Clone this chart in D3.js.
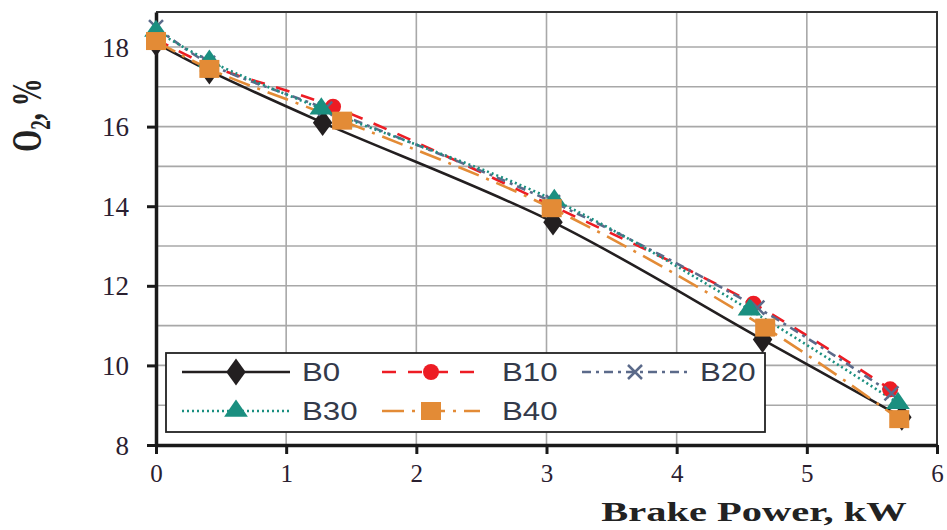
<!DOCTYPE html>
<html>
<head>
<meta charset="utf-8">
<script src="https://cdn.jsdelivr.net/npm/d3@7"></script>
<style>
  body { margin: 0; background: #fff; }
  svg { display: block; }
</style>
</head>
<body>
<div id="chart"></div>
<script>
// brake power (kW) and O2 (%)
var seriesNames = ['B0', 'B10', 'B20', 'B30', 'B40'];
var powerB0  = [0, 0.41, 1.28, 3.05, 4.66, 5.73];
var powerB10 = [0, 0.40, 1.36, 3.05, 4.59, 5.64];
var powerB20 = [0, 0.40, 1.30, 3.05, 4.62, 5.65];
var powerB30 = [0, 0.41, 1.27, 3.06, 4.56, 5.70];
var powerB40 = [0, 0.41, 1.43, 3.04, 4.68, 5.71];
var o2B0  = [18.1, 17.4, 16.1, 13.6, 10.65, 8.7];
var o2B10 = [18.2, 17.55, 16.5, 14.0, 11.55, 9.4];
var o2B20 = [18.5, 17.6, 16.45, 14.1, 11.45, 9.3];
var o2B30 = [18.4, 17.65, 16.45, 14.15, 11.4, 9.05];
var o2B40 = [18.15, 17.45, 16.15, 13.95, 10.95, 8.65];
var xTicks = [0, 1, 2, 3, 4, 5, 6];
var yTicks = [8, 10, 12, 14, 16, 18];

var W = 947, H = 530;
var margin = {left: 156, right: 10, top: 12, bottom: 85};

var svg = d3.select('#chart').append('svg')
  .attr('width', W).attr('height', H);

var x = d3.scaleLinear().domain([0, 6]).range([margin.left, W - margin.right]);
var y = d3.scaleLinear().domain([8, 18.88]).range([H - margin.bottom, margin.top]);

var styles = {
  B0:  {color: '#231f20', dash: null,            marker: 'diamond'},
  B10: {color: '#ed1c24', dash: '14,12',         marker: 'circle'},
  B20: {color: '#5b6a8a', dash: '9,5,3,5',       marker: 'cross'},
  B30: {color: '#1b8f80', dash: '2,3',           marker: 'triangle'},
  B40: {color: '#e38b36', dash: '22,8,3,8',      marker: 'square'}
};
var allX = [powerB0, powerB10, powerB20, powerB30, powerB40];
var allY = [o2B0, o2B10, o2B20, o2B30, o2B40];
var series = seriesNames.map(function (n, i) {
  return {name: n, pts: allX[i].map(function (p, j) { return {x: p, y: allY[i][j]}; })};
});

// grid
var grid = svg.append('g');
grid.selectAll('line.gx').data(d3.range(1, 7)).enter().append('line')
  .attr('x1', function (d) { return x(d); }).attr('x2', function (d) { return x(d); })
  .attr('y1', y.range()[1]).attr('y2', y.range()[0])
  .attr('stroke', '#a8a8a8').attr('stroke-width', 1.6);
grid.selectAll('line.gy').data(d3.range(9, 19)).enter().append('line')
  .attr('y1', function (d) { return y(d); }).attr('y2', function (d) { return y(d); })
  .attr('x1', x.range()[0]).attr('x2', x.range()[1])
  .attr('stroke', '#a8a8a8').attr('stroke-width', 1.6);
// frame top / right
svg.append('path')
  .attr('d', 'M' + x(0) + ',' + y.range()[1] + 'H' + x(6) + 'V' + y(8))
  .attr('fill', 'none').attr('stroke', '#333').attr('stroke-width', 2);

// axes
var xAxis = svg.append('g').attr('transform', 'translate(0,' + y(8) + ')')
  .call(d3.axisBottom(x).tickValues(xTicks).tickFormat(d3.format('d')).tickSize(9).tickSizeOuter(0));
var yAxis = svg.append('g').attr('transform', 'translate(' + x(0) + ',0)')
  .call(d3.axisLeft(y).tickValues(yTicks).tickFormat(d3.format('d')).tickSize(9).tickSizeOuter(0));
[xAxis, yAxis].forEach(function (a) {
  a.select('.domain').attr('stroke', '#1a1a1a').attr('stroke-width', 3.5);
  a.selectAll('.tick line').attr('stroke', '#1a1a1a').attr('stroke-width', 3);
  a.selectAll('.tick text').attr('fill', '#2a2030')
    .style('font-family', '"Liberation Serif", serif').style('font-size', '25px');
});
xAxis.selectAll('.tick text').attr('dy', '1.0em');
yAxis.selectAll('.tick text').attr('x', -27).attr('dy', '0.34em').style('font-size', '27px');

// lines
var line = d3.line().x(function (d) { return x(d.x); }).y(function (d) { return y(d.y); })
  .curve(d3.curveCatmullRom.alpha(0.5));

function drawMarker(g, type, color) {
  if (type === 'diamond') {
    g.append('path').attr('d', d3.symbol().type(d3.symbolDiamond).size(210)())
      .attr('transform', 'scale(1.25,1)').attr('fill', color);
  } else if (type === 'circle') {
    g.append('circle').attr('r', 8).attr('fill', color);
  } else if (type === 'cross') {
    g.append('path').attr('d', 'M-7,-7L7,7M-7,7L7,-7')
      .attr('stroke', color).attr('stroke-width', 2.5).attr('fill', 'none');
  } else if (type === 'triangle') {
    g.append('path').attr('d', d3.symbol().type(d3.symbolTriangle).size(170)())
      .attr('transform', 'scale(1.2,1)').attr('fill', color);
  } else if (type === 'square') {
    g.append('rect').attr('x', -10).attr('y', -9).attr('width', 20).attr('height', 18)
      .attr('fill', color);
  }
}

series.forEach(function (s) {
  var st = styles[s.name];
  svg.append('path').datum(s.pts).attr('d', line)
    .attr('fill', 'none').attr('stroke', st.color).attr('stroke-width', 2.6)
    .attr('stroke-dasharray', st.dash);
});
series.forEach(function (s) {
  var st = styles[s.name];
  s.pts.forEach(function (p) {
    var g = svg.append('g').attr('transform', 'translate(' + x(p.x) + ',' + y(p.y) + ')');
    drawMarker(g, st.marker, st.color);
  });
});

// legend
var leg = svg.append('g');
leg.append('rect').attr('x', 166).attr('y', 353).attr('width', 599).attr('height', 79)
  .attr('fill', '#fff').attr('stroke', '#222').attr('stroke-width', 1.8);
var legCols = [{x1: 182, x2: 290, tx: 302}, {x1: 382, x2: 480, tx: 502}, {x1: 582, x2: 688, tx: 700}];
var legRows = [372, 411];
seriesNames.forEach(function (n, i) {
  var st = styles[n];
  var c = legCols[i % 3], ry = legRows[Math.floor(i / 3)];
  leg.append('line').attr('x1', c.x1).attr('x2', c.x2).attr('y1', ry).attr('y2', ry)
    .attr('stroke', st.color).attr('stroke-width', 2.6).attr('stroke-dasharray', st.dash);
  var g = leg.append('g').attr('transform', 'translate(' + ((c.x1 + c.x2) / 2) + ',' + ry + ')');
  drawMarker(g, st.marker, st.color);
  leg.append('text').attr('x', c.tx).attr('y', ry).attr('dy', '0.36em')
    .attr('transform', 'translate(' + c.tx + ',0) scale(1.25,1) translate(' + (-c.tx) + ',0)')
    .style('font-family', '"Liberation Sans", Arial, sans-serif').style('font-size', '25px')
    .attr('fill', '#333a4a').text(n);
});

// axis titles
svg.append('text')
  .attr('transform', 'translate(754,521) scale(1.5,1)')
  .attr('text-anchor', 'middle')
  .style('font-family', '"Liberation Serif", serif').style('font-size', '27px').style('font-weight', 'bold')
  .attr('fill', '#222').text('Brake Power, kW');

var yl = svg.append('text')
  .attr('transform', 'translate(41,115) scale(1.5,1) rotate(-90)')
  .attr('text-anchor', 'middle')
  .style('font-family', '"Liberation Serif", serif').style('font-size', '28px').style('font-weight', 'bold')
  .attr('fill', '#222');
yl.append('tspan').text('O');
yl.append('tspan').attr('dy', 6).style('font-size', '19px').text('2');
yl.append('tspan').attr('dy', -6).text(', %');
</script>
</body>
</html>
